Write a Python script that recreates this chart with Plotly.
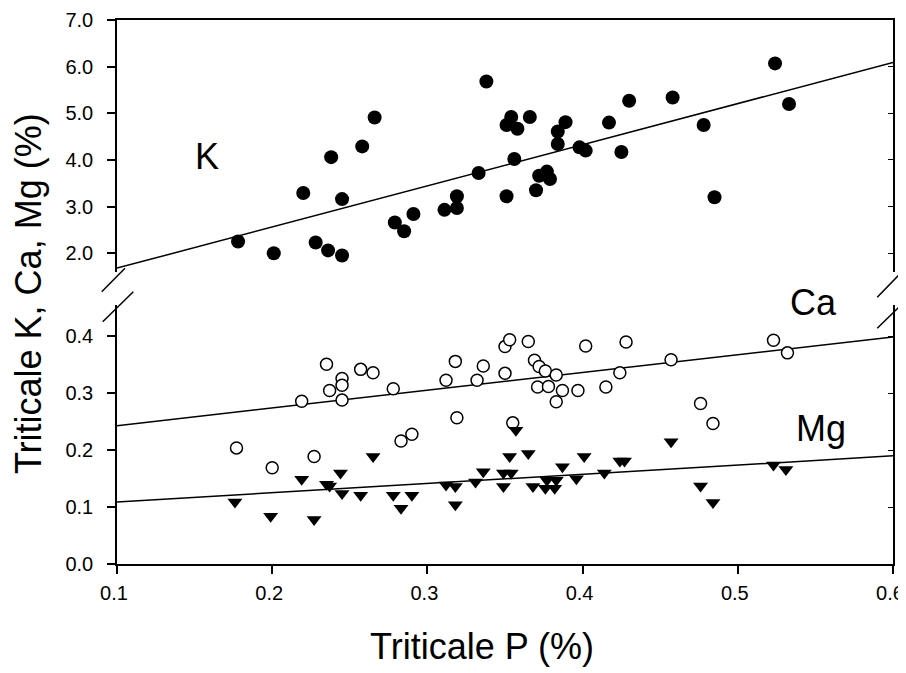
import plotly.graph_objects as go

# ---------------- data ----------------
k_p = [0.178, 0.201, 0.220, 0.228, 0.236, 0.238, 0.245, 0.245, 0.258, 0.266,
       0.279, 0.285, 0.291, 0.311, 0.319, 0.319, 0.333, 0.338, 0.351, 0.354,
       0.351, 0.358, 0.366, 0.356, 0.372, 0.377, 0.379, 0.370, 0.384, 0.389,
       0.384, 0.398, 0.402, 0.417, 0.425, 0.430, 0.458, 0.478, 0.485, 0.524,
       0.533]
k_val = [2.25, 2.00, 3.29, 2.23, 2.06, 4.06, 3.16, 1.95, 4.29, 4.91,
         2.66, 2.47, 2.84, 2.93, 3.22, 2.97, 3.72, 5.68, 3.22, 4.92,
         4.75, 4.67, 4.92, 4.02, 3.66, 3.75, 3.59, 3.35, 4.61, 4.81,
         4.34, 4.27, 4.20, 4.80, 4.17, 5.27, 5.34, 4.75, 3.20, 6.07,
         5.20]

ca_p = [0.177, 0.200, 0.219, 0.227, 0.235, 0.237, 0.245, 0.245, 0.245, 0.257,
        0.265, 0.278, 0.283, 0.290, 0.312, 0.318, 0.319, 0.332, 0.336, 0.350,
        0.353, 0.365, 0.350, 0.369, 0.372, 0.376, 0.383, 0.371, 0.378, 0.387,
        0.383, 0.397, 0.402, 0.415, 0.424, 0.428, 0.457, 0.476, 0.484, 0.523,
        0.532, 0.355]
ca_val = [0.204, 0.169, 0.286, 0.189, 0.351, 0.305, 0.326, 0.314, 0.288, 0.342,
          0.336, 0.308, 0.216, 0.228, 0.323, 0.356, 0.257, 0.323, 0.348, 0.382,
          0.394, 0.391, 0.335, 0.358, 0.347, 0.339, 0.332, 0.311, 0.312, 0.305,
          0.285, 0.305, 0.383, 0.311, 0.336, 0.390, 0.359, 0.282, 0.247, 0.393,
          0.371, 0.248]

mg_p = [0.176, 0.199, 0.219, 0.227, 0.235, 0.237, 0.244, 0.245, 0.257, 0.265,
        0.278, 0.283, 0.290, 0.312, 0.318, 0.318, 0.331, 0.336, 0.353, 0.365,
        0.357, 0.349, 0.354, 0.349, 0.368, 0.376, 0.382, 0.377, 0.383, 0.387,
        0.396, 0.401, 0.414, 0.424, 0.427, 0.457, 0.476, 0.484, 0.523, 0.531]
mg_val = [0.109, 0.084, 0.149, 0.078, 0.140, 0.137, 0.160, 0.124, 0.121, 0.189,
          0.121, 0.098, 0.121, 0.139, 0.136, 0.104, 0.144, 0.162, 0.189, 0.194,
          0.235, 0.160, 0.160, 0.136, 0.136, 0.133, 0.133, 0.147, 0.147, 0.171,
          0.150, 0.189, 0.160, 0.181, 0.181, 0.215, 0.137, 0.108, 0.174, 0.166]

# regression lines: [intercept, slope]
k_fit = [0.798, 8.82]
ca_fit = [0.2118, 0.312]
mg_fit = [0.0928, 0.162]
fit_x = [0.1, 0.6]

x_ticks = [0.1, 0.2, 0.3, 0.4, 0.5, 0.6]
upper_ticks = [2.0, 3.0, 4.0, 5.0, 6.0, 7.0]
lower_ticks = [0.0, 0.1, 0.2, 0.3, 0.4]
series_labels = ["K", "Ca", "Mg"]

FONT = "Liberation Sans, Arial, Helvetica, sans-serif"

fig = go.Figure()

def fit_line(fit):
    return [fit[0] + fit[1] * x for x in fit_x]

# upper panel: K
fig.add_trace(go.Scatter(x=fit_x, y=fit_line(k_fit), mode="lines",
                         line=dict(color="black", width=1.5),
                         xaxis="x2", yaxis="y2", showlegend=False))
fig.add_trace(go.Scatter(x=k_p, y=k_val, mode="markers",
                         marker=dict(symbol="circle", size=14, color="black"),
                         xaxis="x2", yaxis="y2", showlegend=False))

# lower panel: Ca and Mg
fig.add_trace(go.Scatter(x=fit_x, y=fit_line(ca_fit), mode="lines",
                         line=dict(color="black", width=1.5),
                         xaxis="x", yaxis="y", showlegend=False))
fig.add_trace(go.Scatter(x=fit_x, y=fit_line(mg_fit), mode="lines",
                         line=dict(color="black", width=1.5),
                         xaxis="x", yaxis="y", showlegend=False))
fig.add_trace(go.Scatter(x=ca_p, y=ca_val, mode="markers",
                         marker=dict(symbol="circle", size=12, color="white",
                                     line=dict(color="black", width=1.5)),
                         xaxis="x", yaxis="y", showlegend=False))
fig.add_trace(go.Scatter(x=mg_p, y=mg_val, mode="markers",
                         marker=dict(symbol="triangle-down", size=13, color="black"),
                         xaxis="x", yaxis="y", showlegend=False))

# empty traces for right-side inner tick axes
fig.add_trace(go.Scatter(x=[None], y=[None], xaxis="x", yaxis="y3", showlegend=False))
fig.add_trace(go.Scatter(x=[None], y=[None], xaxis="x2", yaxis="y4", showlegend=False))

LOW_DOM = [0.0, 0.476]
UP_DOM = [0.537, 1.0]
LOW_RANGE = [0.0, 0.455]
UP_RANGE = [1.6, 7.0]

tickfont = dict(family=FONT, size=20, color="black")

# the page body adds an 8px offset, so the figure is 8px smaller on each axis
fig.update_layout(
    width=898, height=665,
    margin=dict(l=109, r=13, t=12, b=109),
    paper_bgcolor="white", plot_bgcolor="white",
    font=dict(family=FONT, color="black"),
    xaxis=dict(range=[0.1, 0.6], domain=[0, 1], anchor="y", automargin=False,
               tickvals=x_ticks, tickformat=".1f", ticklabeloverflow="allow",
               ticklabelshift=-3,
               showline=True, linecolor="black", linewidth=1.5,
               ticks="outside", ticklen=8, tickwidth=1.5, tickcolor="black",
               ticklabelstandoff=2, tickfont=tickfont,
               showgrid=False, zeroline=False),
    xaxis2=dict(range=[0.1, 0.6], domain=[0, 1], anchor="y2", matches="x",
                automargin=False,
                side="top", showline=True, linecolor="black", linewidth=1.5,
                ticks="", showticklabels=False, showgrid=False, zeroline=False),
    yaxis=dict(range=LOW_RANGE, domain=LOW_DOM, anchor="x", automargin=False,
               tickvals=lower_ticks, tickformat=".1f",
               showline=True, mirror=True, linecolor="black", linewidth=1.5,
               ticks="outside", ticklen=8, tickwidth=1.5, tickcolor="black",
               ticklabelstandoff=10, tickfont=tickfont,
               showgrid=False, zeroline=False),
    yaxis2=dict(range=UP_RANGE, domain=UP_DOM, anchor="x2", automargin=False,
                tickvals=upper_ticks, tickformat=".1f",
                showline=True, mirror=True, linecolor="black", linewidth=1.5,
                ticks="outside", ticklen=8, tickwidth=1.5, tickcolor="black",
                ticklabelstandoff=10, tickfont=tickfont,
                showgrid=False, zeroline=False),
    yaxis3=dict(range=LOW_RANGE, overlaying="y", side="right", anchor="x",
                automargin=False,
                tickvals=lower_ticks, ticks="inside", ticklen=5, tickwidth=1.2,
                tickcolor="black", showticklabels=False, showline=False,
                showgrid=False, zeroline=False),
    yaxis4=dict(range=UP_RANGE, overlaying="y2", side="right", anchor="x2",
                automargin=False,
                tickvals=upper_ticks, ticks="inside", ticklen=5, tickwidth=1.2,
                tickcolor="black", showticklabels=False, showline=False,
                showgrid=False, zeroline=False),
)

big = dict(family=FONT, size=36, color="black")
label_pos = [(0.1166, 0.75), (0.897, 0.48), (0.907, 0.25)]
for txt, (px, py) in zip(series_labels, label_pos):
    fig.add_annotation(text=txt, x=px, y=py, xref="paper", yref="paper",
                       xanchor="center", yanchor="middle", showarrow=False, font=big)

fig.add_annotation(text="Triticale K, Ca, Mg (%)", x=-0.1147, y=0.498,
                   xref="paper", yref="paper", textangle=-90,
                   xanchor="center", yanchor="middle", showarrow=False, font=big)
fig.add_annotation(text="Triticale P (%)", x=0.47, y=-0.152,
                   xref="paper", yref="paper",
                   xanchor="center", yanchor="middle", showarrow=False, font=big)

# axis-break marks
breaks = [(-0.0197, 0.5006, 0.0103, 0.5435), (-0.0184, 0.4454, 0.021, 0.5006),
          (0.9797, 0.4903, 1.018, 0.5465), (0.9797, 0.4333, 1.018, 0.4865)]
for x0, y0, x1, y1 in breaks:
    fig.add_shape(type="line", xref="paper", yref="paper",
                  x0=x0, y0=y0, x1=x1, y1=y1,
                  line=dict(color="black", width=1.5))

fig.write_html("out.html")
